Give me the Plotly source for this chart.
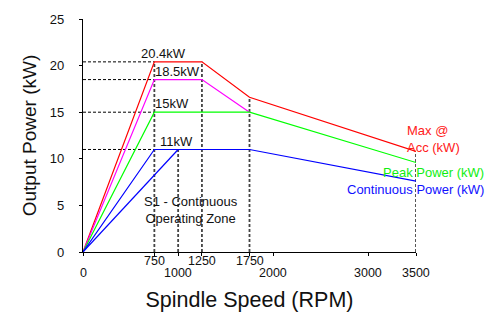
import plotly.graph_objects as go

# ---- data ----
speed_max = [0, 750, 1250, 1750, 3500]
power_max = [0, 20.4, 20.4, 16.6, 10.8]

speed_mag = [0, 750, 1250, 1750]
power_mag = [0, 18.5, 18.5, 15]

speed_peak = [0, 750, 1750, 3500]
power_peak = [0, 15, 15, 9.6]

speed_cont = [0, 750, 1750, 3500]
power_cont = [0, 11, 11, 7.6]

speed_cont2 = [0, 1000]
power_cont2 = [0, 11]

h_ref_levels = [20.4, 18.5, 15, 11]
h_ref_end = 750
v_ref_speeds = [750, 1000, 1250, 1750, 3500]
v_ref_tops = [20.4, 11, 20.4, 16.6, 10.8]

x_tick_row1 = [750, 1250, 1750]
x_tick_row2 = [0, 1000, 2000, 3000, 3500]
y_ticks = [0, 5, 10, 15, 20, 25]

level_labels = ["20.4kW", "18.5kW", "15kW", "11kW"]
level_label_x = [846, 993, 936, 985]
level_label_y = [21.34, 19.4, 15.93, 11.85]

FONT = "Liberation Sans, Arial, sans-serif"

fig = go.Figure()

# dashed reference lines
hx, hy = [], []
for lv in h_ref_levels:
    hx += [0, h_ref_end, None]
    hy += [lv, lv, None]
fig.add_trace(go.Scatter(x=hx, y=hy, mode="lines",
                         line=dict(color="black", width=1, dash="3px,2px"),
                         hoverinfo="skip", showlegend=False))
vx, vy = [], []
for s, t in zip(v_ref_speeds, v_ref_tops):
    vx += [s, s, None]
    vy += [0, t, None]
fig.add_trace(go.Scatter(x=vx, y=vy, mode="lines",
                         line=dict(color="#444444", width=1.8, dash="3px,2px"),
                         hoverinfo="skip", showlegend=False))

series = [
    (speed_max, power_max, "#ff0000"),
    (speed_mag, power_mag, "#ff00ff"),
    (speed_peak, power_peak, "#00ff00"),
    (speed_cont, power_cont, "#0000ff"),
    (speed_cont2, power_cont2, "#0000ff"),
]
for xs, ys, c in series:
    fig.add_trace(go.Scatter(x=xs, y=ys, mode="lines",
                             line=dict(color=c, width=1.2),
                             hoverinfo="skip", showlegend=False))

ann = []
# x tick labels in two rows
for v in x_tick_row1:
    ann.append(dict(x=v, y=0, xref="x", yref="y", text=str(v), showarrow=False,
                    yanchor="middle", yshift=-9, font=dict(size=12.5, color="#111")))
for v in x_tick_row2:
    ann.append(dict(x=v, y=0, xref="x", yref="y", text=str(v), showarrow=False,
                    yanchor="middle", yshift=-21, font=dict(size=12.5, color="#111")))
# level labels
for t, x, y in zip(level_labels, level_label_x, level_label_y):
    ann.append(dict(x=x, y=y, xref="x", yref="y", text=t, showarrow=False,
                    yanchor="middle", font=dict(size=13, color="#111")))
ann.append(dict(x=1140, y=4.48, xref="x", yref="y",
                text="S1 - Continuous<br>Operating Zone", showarrow=False,
                align="center", yanchor="middle", font=dict(size=13, color="#111")))
ann.append(dict(x=3386, y=12.1, xref="x", yref="y", text="Max @<br>Acc (kW)",
                showarrow=False, xanchor="left", align="left", yanchor="middle",
                font=dict(size=13, color="#ff2020")))
ann.append(dict(x=1.21, y=8.58, xref="paper", yref="y", text="Peak Power (kW)",
                showarrow=False, xanchor="right", yanchor="middle",
                font=dict(size=13, color="#11ee11")))
ann.append(dict(x=1.21, y=6.75, xref="paper", yref="y", text="Continuous Power (kW)",
                showarrow=False, xanchor="right", yanchor="middle",
                font=dict(size=13, color="#1010ff")))

fig.update_layout(
    width=503, height=318,
    margin=dict(l=83, r=87, t=17, b=64),
    paper_bgcolor="white", plot_bgcolor="white",
    font=dict(family=FONT, color="#111"),
    showlegend=False,
    annotations=ann,
    xaxis=dict(range=[0, 3500], showgrid=False, zeroline=False,
               showline=True, linecolor="black", linewidth=1.2,
               tickvals=x_tick_row1 + x_tick_row2, ticks="outside", ticklen=3,
               tickcolor="black", showticklabels=False,
               title=dict(text="Spindle Speed (RPM)", font=dict(size=21.5), standoff=36)),
    yaxis=dict(range=[0, 25], showgrid=False, zeroline=False,
               showline=True, linecolor="black", linewidth=1.2,
               tickvals=y_ticks, ticks="outside", ticklen=3, tickcolor="black",
               ticklabelstandoff=12, tickfont=dict(size=13),
               title=dict(text="Output Power (kW)", font=dict(size=19), standoff=8)),
)

fig.write_html("out.html", config={"displayModeBar": False},
               post_script="document.body.style.margin='0';document.body.style.padding='0';")
